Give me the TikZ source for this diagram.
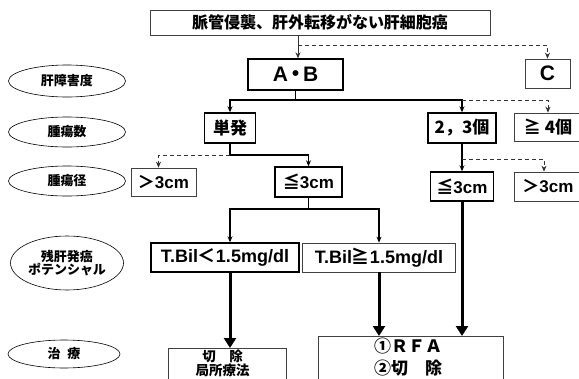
\documentclass[tikz,border=0pt]{standalone}
\usepackage{fontspec}
\setmainfont{Liberation Sans}
\newfontfamily\jp{Noto Sans CJK JP}
\usetikzlibrary{arrows.meta,calc,shapes.geometric}
\newcommand\jpb{\jp\bfseries}
\newcommand\fsz[1]{\fontsize{#1}{#1}\selectfont}
\begin{document}
\begin{tikzpicture}[x=1pt,y=-1pt,
  thickbox/.style={draw, line width=1.4pt, inner sep=0pt, font=\bfseries\fsz{17}},
  thinbox/.style={draw=black!75, line width=0.7pt, inner sep=0pt, font=\bfseries\fsz{17}},
  lbl/.style={draw, ellipse, line width=0.6pt, inner sep=0pt, minimum width=117pt, font=\jpb\fsz{13}, align=center},
  txt/.style={inner sep=0pt},
  thinline/.style={draw=black!80, line width=0.8pt},
  midline/.style={draw, line width=1.4pt},
  dashline/.style={draw=black!80, line width=0.8pt, dash pattern=on 4pt off 3pt},
  arr/.style={-{Stealth[length=6pt,width=5pt]}},
  bigarrow/.style={draw, line width=3pt, -{Triangle[length=10pt,width=12pt]}}
]
\useasboundingbox (0,0) rectangle (579,378);
\clip (0,0) rectangle (579,378);

% left category ellipses
\node[lbl, minimum height=32pt] (e1) at (67,81) {肝障害度};
\node[lbl, minimum height=30pt] (e2) at (67,132) {腫瘍数};
\node[lbl, minimum height=30pt] (e3) at (67,181) {腫瘍径};
\node[lbl, minimum width=113pt, minimum height=54pt] (e4) at (67,263) {残肝発癌\\ポテンシャル};
\node[lbl, minimum width=112pt, minimum height=28pt] (e5) at (64,354) {治\hspace{7pt}療};

% boxes
\node[thinbox, minimum width=340pt, minimum height=25pt, font=\jpb\fsz{16}] (top) at (320,22.5) {脈管侵襲、肝外転移がない肝細胞癌};
\node[thickbox, minimum width=95pt, minimum height=31pt, font=\bfseries\fsz{21}] (AB) at (295.5,74.5) {A\hspace{-3pt}{\jpb ・}\hspace{-3pt}B};
\node[thinbox, minimum width=45pt, minimum height=29pt, font=\bfseries\fsz{21}] (C) at (547.5,73.5) {C};

\node[thickbox, minimum width=51pt, minimum height=30pt] (tanpatsu) at (230,128) {\jpb 単発};
\node[thickbox, minimum width=68pt, minimum height=30pt] (n23) at (462,128) {\jpb 2，3個};
\node[thinbox, minimum width=68pt, minimum height=28pt] (n4) at (548,127) {\jpb ≧ 4個};

\node[thinbox, minimum width=65pt, minimum height=28pt] (gt3L) at (163.5,182) {{\jpb ＞}3cm};
\node[thickbox, minimum width=67pt, minimum height=30pt] (le3L) at (308.5,182) {{\jpb ≦}3cm};
\node[thickbox, minimum width=63pt, minimum height=29pt] (le3R) at (462,186.5) {{\jpb ≦}3cm};
\node[thinbox, minimum width=68pt, minimum height=29pt] (gt3R) at (548,186.5) {{\jpb ＞}3cm};

\node[thickbox, minimum width=148pt, minimum height=29pt, font=\bfseries\fsz{18}] (tbilL) at (225,257.5) {T.Bil{\jpb ＜}1.5mg/dl};
\node[thinbox, minimum width=153pt, minimum height=29pt, font=\bfseries\fsz{18}] (tbilR) at (379,257.5) {T.Bil{\jpb ≧}1.5mg/dl};

\node[thinbox, minimum width=118pt, minimum height=50pt, anchor=north] (setsujo) at (227,348) {};
\node[txt, font=\jpb\fsz{13.5}] (s1) at (222.5,356) {切　除};
\node[txt, font=\jpb\fsz{13.5}] (s2) at (222.5,370) {局所療法};

\node[thinbox, minimum width=185pt, minimum height=60pt, anchor=north] (RFA) at (410.5,336) {};
\node[txt, font=\jpb\fsz{17}] (r1) at (408,346) {①ＲＦＡ};
\node[txt, font=\jpb\fsz{17}] (r2) at (408,368) {②切　除};

% connectors
\coordinate (j1) at (298,45);
\draw[thinline] (top.south -| j1) -- (j1);
\draw[thinline, arr] (j1) -- (j1 |- AB.north);
\draw[dashline, arr] (j1) -| (C.north);

\coordinate (j2) at (295.5,100);
\draw[midline] (AB.south) -- (j2);
\draw[midline, arr] (j2) -| (tanpatsu.north);
\draw[midline, arr] (j2) -| (n23.north);
\draw[dashline, arr] (n23.north |- j2) -| (n4.north);

\coordinate (j3) at (230,155);
\draw[midline] (tanpatsu.south) -- (j3);
\draw[midline, arr] (j3) -| (le3L.north);
\draw[dashline, arr] (j3) -| ([xshift=-5pt]gt3L.north);

\draw[midline, arr] (n23.south) -- (le3R.north);
\coordinate (j5) at (462,159);
\draw[dashline, arr] (j5) -| ([xshift=-4pt]gt3R.north);

\coordinate (j4) at (308.5,209);
\draw[midline] (le3L.south) -- (j4);
\draw[midline, arr] (j4) -| (tbilL.north -| j3);
\draw[midline, arr] (j4) -| (tbilR.north);

\draw[bigarrow] (tbilL.south -| j3) -- (setsujo.north -| j3);
\draw[bigarrow] (tbilR.south) -- (tbilR.south |- RFA.north);
\draw[bigarrow] (le3R.south) -- (le3R.south |- RFA.north);
\end{tikzpicture}
\end{document}
